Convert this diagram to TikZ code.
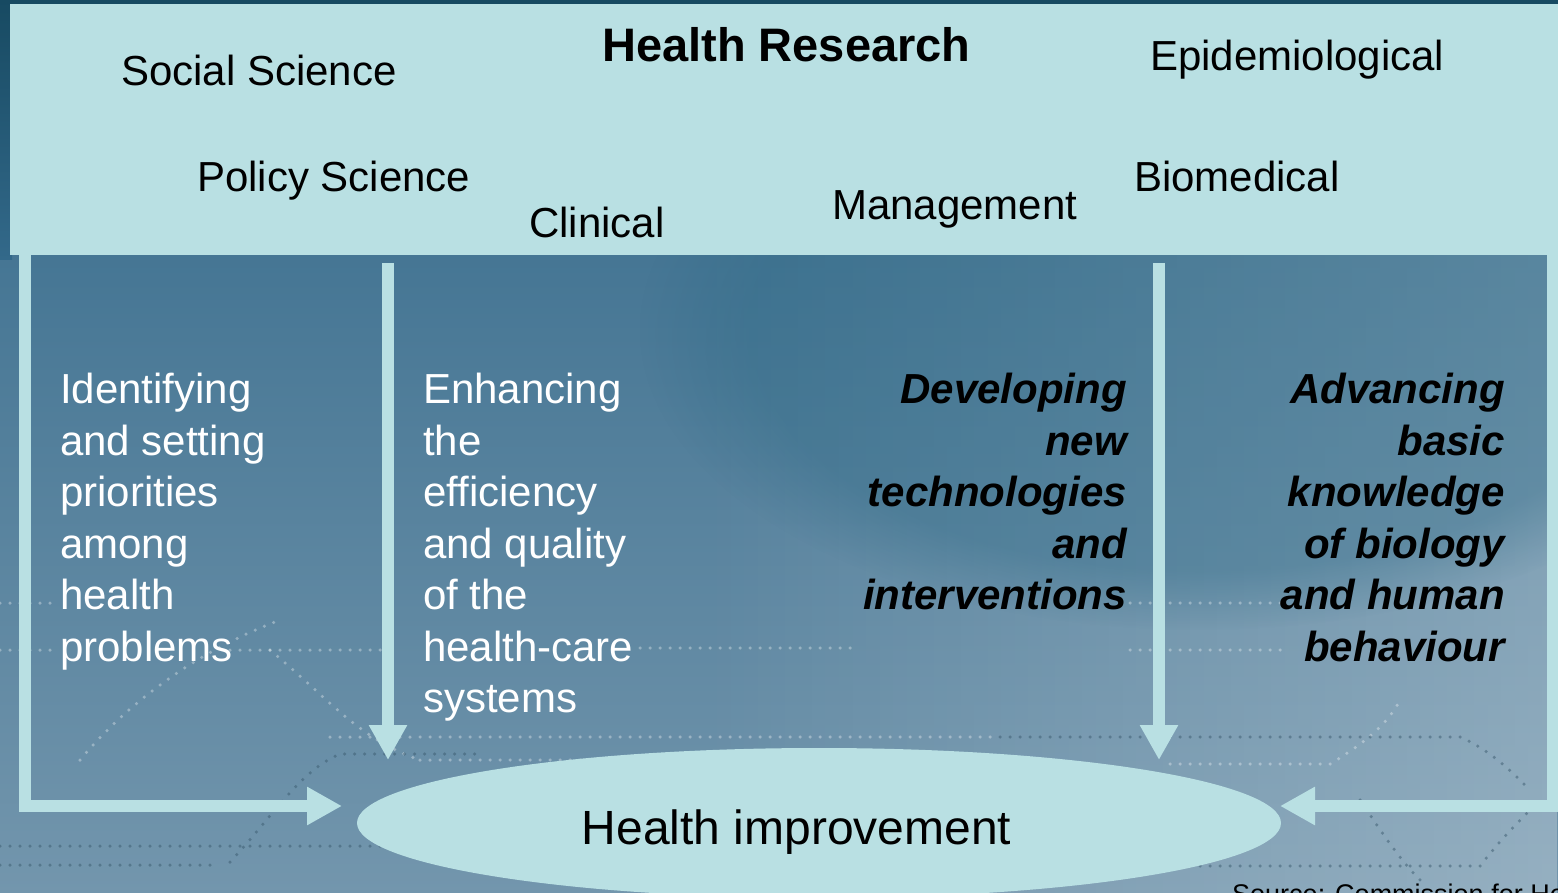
\documentclass[tikz,border=0pt]{standalone}
\usepackage{fontspec}
\setmainfont{Liberation Sans}
\usetikzlibrary{arrows.meta,shapes.geometric,fadings}
\definecolor{boxc}{HTML}{B9E0E3}
\definecolor{bgA}{HTML}{33698A}
\definecolor{bgB}{HTML}{7396AD}
\definecolor{bgDark}{HTML}{2A6784}
\definecolor{edgec}{HTML}{174A62}
\definecolor{dotdark}{HTML}{3A5A6E}
\begin{document}
\begin{tikzpicture}[x=1pt,y=-1pt,
  toplbl/.style={font=\fontsize{42}{50}\selectfont, inner sep=0pt, anchor=base west, text=black},
  desc/.style={font=\fontsize{42}{51.5}\selectfont, inner sep=0pt, text=white, align=left, anchor=north west},
  descb/.style={font=\fontsize{42}{51.5}\selectfont\bfseries\itshape, inner sep=0pt, text=black, align=right, anchor=north east},
  flow/.style={draw=boxc, line width=11.5pt, line join=miter, -{Triangle[length=35pt,width=36pt]}},
  dotw/.style={draw=white, line width=3.5pt, line cap=round, dash pattern=on 0pt off 10pt, opacity=0.33},
  dotk/.style={draw=dotdark, line width=3.5pt, line cap=round, dash pattern=on 0pt off 10pt, opacity=0.5},
]
\useasboundingbox (0,0) rectangle (1558,893);
\begin{scope}
\clip (0,0) rectangle (1558,893);
% background
\shade[top color=bgA, bottom color=bgB] (0,0) rectangle (1558,893);
\fill[white, opacity=0.25, path fading=west] (700,0) rectangle (1558,893);
\fill[bgDark, opacity=0.35, path fading=circle with fuzzy edge 20 percent] (1200,330) ellipse (560pt and 300pt);
\fill[edgec] (0,0) rectangle (1558,6);
\shade[top color=edgec, bottom color=bgA] (0,0) rectangle (12,260);
% decorative dotted lines
\draw[dotw] (0,603) -- (60,603);
\draw[dotw] (0,650) -- (60,650) (230,650) -- (400,650);
\draw[dotw] (640,648) -- (860,648);
\draw[dotw] (1130,603) -- (1290,603) (1130,650) -- (1290,650);
\draw[dotw] (330,737) -- (1000,737);
\draw[dotw] (420,760) -- (600,760);
\draw[dotw] (270,650) .. controls (330,700) and (360,740) .. (420,760);
\draw[dotw] (80,760) .. controls (130,700) and (200,650) .. (280,620);
\draw[dotw] (1170,764) -- (1330,764) .. controls (1370,740) and (1390,720) .. (1400,700);
\draw[dotk] (1000,737) -- (1460,737) .. controls (1490,750) and (1510,770) .. (1530,790);
\draw[dotk] (0,846) -- (390,846) (0,865) -- (220,865);
\draw[dotk] (230,862) .. controls (270,820) and (300,770) .. (340,754) -- (480,754);
\draw[dotk] (1200,866) -- (1480,866) .. controls (1500,840) and (1520,820) .. (1540,800);
\draw[dotk] (1360,800) .. controls (1380,830) and (1400,860) .. (1420,880);
\end{scope}

% top box
\node[fill=boxc, inner sep=0pt, minimum width=1570pt, minimum height=250.5pt, anchor=north west] (top) at (10,4) {};

\node[toplbl] (soc) at (121,86) {Social Science};
\node[toplbl, font=\fontsize{47}{56}\selectfont\bfseries] (hr) at (602,62) {Health Research};
\node[toplbl] (epi) at (1150,71) {Epidemiological};
\node[toplbl] (pol) at (197,192) {Policy Science};
\node[toplbl] (cli) at (529,238) {Clinical};
\node[toplbl] (man) at (832,220) {Management};
\node[toplbl] (bio) at (1134,192) {Biomedical};

% outcome ellipse
\node[ellipse, fill=boxc, inner sep=0pt, minimum width=924pt, minimum height=150pt] (hi) at (819,823) {};
\node[font=\fontsize{48}{56}\selectfont, inner sep=0pt, anchor=base, text=black] (hitxt) at (796.5,844) {Health improvement};

% arrow ends
\coordinate (ltip) at (342,806);
\coordinate (rtip) at (1280,806);
\coordinate (m1) at (388,760);
\coordinate (m2) at (1159,760);

% connectors
\draw[flow] ([xshift=15pt]top.south west) |- (ltip);
\draw[flow] (top.south -| 1552.5,0) |- (rtip);
\draw[flow] ([yshift=-8pt]top.south -| m1) -- (m1);
\draw[flow] ([yshift=-8pt]top.south -| m2) -- (m2);

% descriptions
\node[desc] (d1) at (60,373) {Identifying\\and setting\\priorities\\among\\health\\problems};
\node[desc] (d2) at (423,373) {Enhancing\\the\\efficiency\\and quality\\of the\\health-care\\systems};
\node[descb] (d3) at (1127,373) {Developing\\new\\technologies\\and\\interventions};
\node[descb] (d4) at (1505,373) {Advancing\\basic\\knowledge\\of biology\\and human\\behaviour};

% source
\node[font=\fontsize{27}{30}\selectfont, inner sep=0pt, anchor=base west, text=black] (src) at (1232,903) {Source: Commission for He};
\end{tikzpicture}
\end{document}
